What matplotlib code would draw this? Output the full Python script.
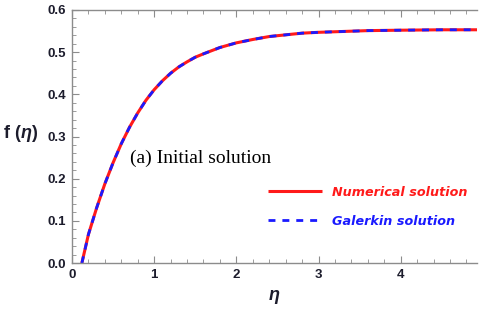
'''Recreate f(eta) initial solution plot'''

import matplotlib
matplotlib.use('Agg')
import matplotlib.pyplot as plt
from matplotlib.ticker import MultipleLocator, FormatStrFormatter

# values
eta = [0.12, 0.2, 0.3, 0.4, 0.5, 0.6, 0.7, 0.8, 0.9, 1.0, 1.1, 1.2, 1.3, 1.4,
       1.5, 1.6, 1.8, 2.0, 2.2, 2.4, 2.6, 2.8, 3.0, 3.3, 3.6, 4.0, 4.5, 4.93]
f_numerical = [0.0, 0.068, 0.131, 0.188, 0.238, 0.283, 0.322, 0.356, 0.386, 0.411,
               0.432, 0.450, 0.465, 0.477, 0.488, 0.496, 0.511, 0.522, 0.530, 0.537,
               0.541, 0.545, 0.547, 0.549, 0.551, 0.552, 0.553, 0.553]
f_galerkin = list(f_numerical)

labels = ['Numerical solution', 'Galerkin solution']

plt.rcParams['font.family'] = ['Liberation Sans', 'DejaVu Sans']
plt.rcParams['mathtext.fontset'] = 'custom'
plt.rcParams['mathtext.bf'] = 'Liberation Sans:bold'
plt.rcParams['mathtext.bfit'] = 'Liberation Sans:italic:bold'

fig = plt.figure(figsize=(4.8, 3.11), dpi=100)
ax = fig.add_axes([0.15, 0.154, 0.844, 0.814])

ax.plot(eta, f_numerical, color='#ff1a1a', lw=2.2, solid_capstyle='butt', label=labels[0])
ax.plot(eta, f_galerkin, color='#1a1aff', lw=2.0, dashes=(2.5, 2.5), label=labels[1])

ax.set_xlim(0, 4.93)
ax.set_ylim(0, 0.6)
ax.xaxis.set_major_locator(MultipleLocator(1))
ax.xaxis.set_minor_locator(MultipleLocator(0.2))
ax.yaxis.set_major_locator(MultipleLocator(0.1))
ax.yaxis.set_minor_locator(MultipleLocator(0.02))
ax.yaxis.set_major_formatter(FormatStrFormatter('%.1f'))

grey = '#8c8c8c'
for side in ['left', 'bottom', 'top']:
    ax.spines[side].set_color(grey)
    ax.spines[side].set_linewidth(1.0)
ax.spines['right'].set_visible(False)
ax.tick_params(which='both', direction='in', color=grey, top=True, right=False,
               labelsize=9.5, labelcolor='#1c1c2c', pad=4)
ax.tick_params(which='major', length=5)
ax.tick_params(which='minor', length=3)
for lab in ax.get_xticklabels() + ax.get_yticklabels():
    lab.set_fontweight('bold')

# axis labels
ax.set_ylabel(r'$\mathbf{f\ (}\mathbfit{\eta}\mathbf{)}$', fontsize=13, rotation=0,
              color='#1c1c2c', ha='center', va='center')
ax.yaxis.set_label_coords(-0.125, 0.51)
ax.set_xlabel(r'$\mathbfit{\eta}$', fontsize=13, color='#1c1c2c', va='center')
ax.xaxis.set_label_coords(0.5, -0.135)

ax.text(0.143, 0.415, '(a) Initial solution', transform=ax.transAxes,
        fontsize=14, family='Liberation Serif', va='center', ha='left')

leg = ax.legend(loc='center left', bbox_to_anchor=(0.484, 0.223), frameon=False,
                borderaxespad=0, borderpad=0,
                handlelength=4.2, handletextpad=0.8, labelspacing=1.25,
                prop={'family': 'DejaVu Sans', 'weight': 'bold', 'style': 'oblique',
                      'size': 9.2},
                labelcolor='linecolor')

plt.savefig('out.png', dpi=100)
